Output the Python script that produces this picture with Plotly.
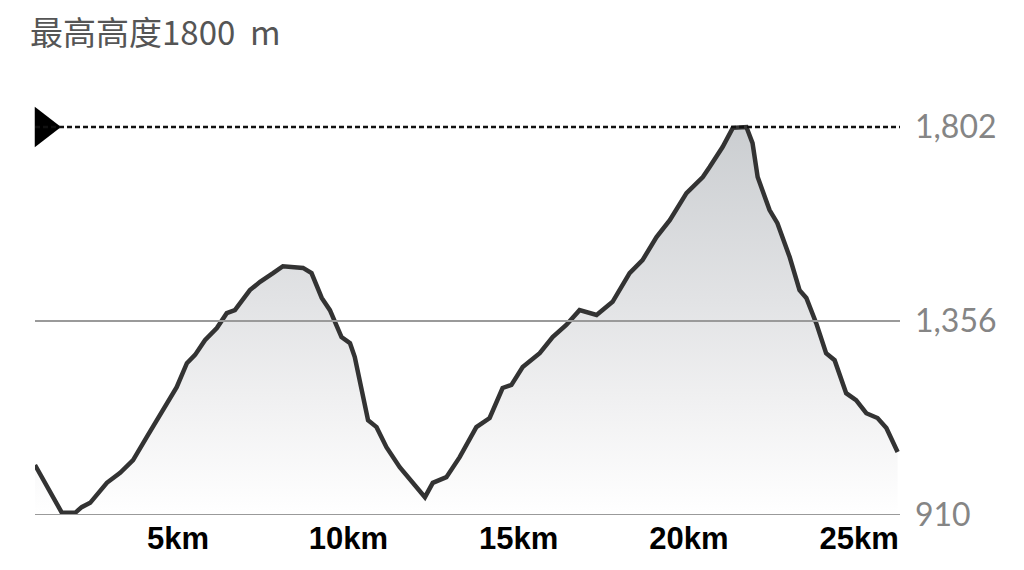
import plotly.graph_objects as go

# distance (km) and elevation (m)
dist_km = [0.80, 1.59, 1.98, 2.17, 2.42, 2.91, 3.30, 3.68, 4.08, 4.56,
           4.96, 5.26, 5.50, 5.79, 6.14, 6.43, 6.67, 7.11, 7.41, 7.79,
           8.08, 8.67, 8.92, 9.22, 9.46, 9.80, 10.05, 10.19, 10.39, 10.58,
           10.83, 11.12, 11.51, 11.90, 12.25, 12.48, 12.88, 13.27, 13.76, 14.15,
           14.53, 14.79, 15.12, 15.62, 16.00, 16.40, 16.79, 17.29, 17.76, 18.26,
           18.64, 19.05, 19.44, 19.93, 20.41, 20.61, 20.99, 21.29, 21.69, 21.87,
           22.02, 22.37, 22.60, 22.96, 23.25, 23.45, 23.74, 24.03, 24.28, 24.62,
           24.91, 25.21, 25.54, 25.80, 26.13]
elev_m = [1025, 915, 915, 928, 938, 984, 1007, 1036, 1089, 1151,
          1204, 1259, 1278, 1312, 1340, 1374, 1381, 1427, 1446, 1466,
          1482, 1478, 1466, 1409, 1381, 1319, 1305, 1273, 1197, 1128,
          1112, 1066, 1020, 984, 951, 984, 997, 1043, 1112, 1133,
          1202, 1209, 1250, 1282, 1319, 1347, 1381, 1370, 1400, 1466,
          1496, 1549, 1588, 1650, 1687, 1710, 1756, 1800, 1802, 1765,
          1687, 1611, 1581, 1503, 1427, 1409, 1351, 1282, 1266, 1190,
          1174, 1144, 1133, 1110, 1055]

y_ticks = [910, 1356, 1802]
x_ticks = [5, 10, 15, 20, 25]
x_labels = ["5km", "10km", "15km", "20km", "25km"]
title_text = "最高高度1800  m"

y_min = 910
y_max = 1802

fig = go.Figure()

# filled profile, gradient from white at the base to grey at the top
fig.add_trace(go.Scatter(
    x=dist_km, y=elev_m,
    mode="lines",
    line=dict(color="#333333", width=4.5),
    fill="tozeroy",
    fillgradient=dict(type="vertical", start=y_min, stop=y_max,
                      colorscale=[[0, "#ffffff"], [0.3, "#f0f0f1"],
                                  [0.55, "#e2e3e5"], [1, "#cbced1"]]),
    hoverinfo="skip",
    showlegend=False,
))

# max marker triangle on the left
fig.add_trace(go.Scatter(
    x=[dist_km[0] + 0.25], y=[y_max],
    mode="markers",
    marker=dict(symbol="triangle-right", size=35, color="black"),
    cliponaxis=False,
    hoverinfo="skip",
    showlegend=False,
))

# reference lines
fig.add_hline(y=y_max, line=dict(color="#111111", width=2.5, dash="5px,3px"))
fig.add_hline(y=y_ticks[1], line=dict(color="#9a9a9a", width=2))
fig.add_hline(y=y_min, line=dict(color="#9a9a9a", width=2))

# page body has an 8px margin, so offsets below are 8px less
fig.update_layout(
    width=1024, height=570,
    margin=dict(l=27, r=132, t=82, b=63),
    plot_bgcolor="white",
    paper_bgcolor="white",
    title=dict(text=title_text, xref="container", yref="container",
               x=22 / 1024, y=1 - 25 / 570, xanchor="left", yanchor="middle",
               font=dict(family="Noto Sans CJK SC", size=33, color="#555555")),
    xaxis=dict(range=[dist_km[0], dist_km[-1] + 0.07],
               tickvals=x_ticks, ticktext=x_labels,
               showgrid=False, zeroline=False, showline=False, ticks="",
               ticklabelstandoff=2,
               tickfont=dict(family="Liberation Sans", size=31, color="black",
                             weight="bold")),
    yaxis=dict(range=[y_min, y_min + 425 * (y_max - y_min) / 388],
               side="right", tickvals=y_ticks, tickformat=",",
               showgrid=False, zeroline=False, showline=False, ticks="",
               ticklabelstandoff=14,
               tickfont=dict(family="Lato", size=32, color="#858585")),
)

fig.write_html("out.html")
